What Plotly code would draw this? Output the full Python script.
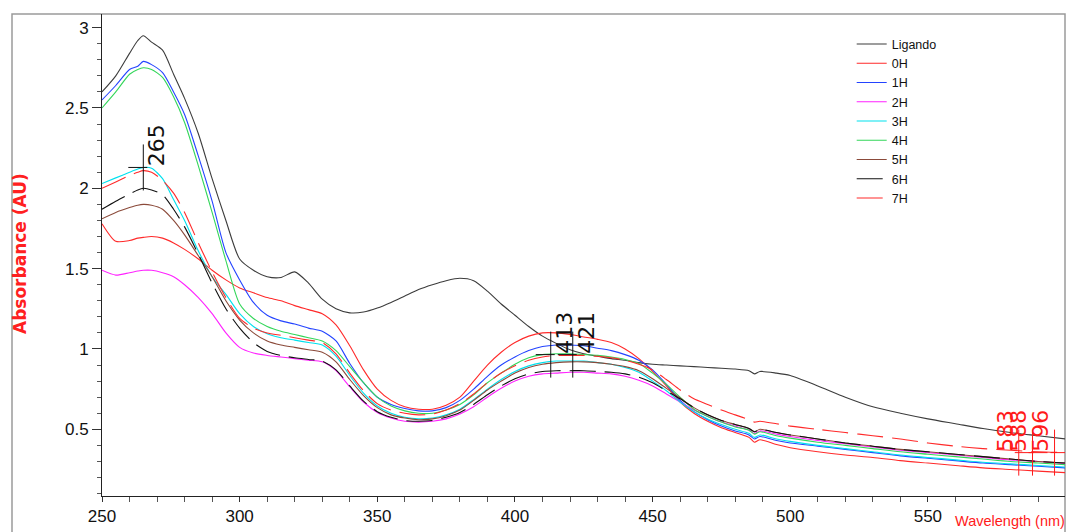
import plotly.graph_objects as go

# ---------------- data ----------------
wavelength = [250, 255, 260, 263, 265, 268, 272, 276, 280, 285,
              290, 295, 300, 305, 310, 315, 320, 325, 330, 335,
              340, 345, 350, 355, 360, 365, 370, 375, 380, 385,
              390, 395, 400, 405, 410, 415, 420, 425, 430, 435,
              440, 445, 450, 455, 460, 465, 470, 475, 480, 485,
              487, 489, 495, 500, 510, 520, 530, 540, 550, 560,
              570, 580, 590, 600]

ligando = [2.60, 2.70, 2.84, 2.92, 2.95, 2.91, 2.86, 2.71, 2.56, 2.34,
           2.06, 1.80, 1.56, 1.49, 1.45, 1.445, 1.48, 1.41, 1.31, 1.25,
           1.225, 1.23, 1.255, 1.29, 1.33, 1.37, 1.40, 1.425, 1.44, 1.425,
           1.36, 1.28, 1.21, 1.14, 1.08, 1.035, 0.995, 0.97, 0.955, 0.94,
           0.93, 0.915, 0.905, 0.90, 0.895, 0.89, 0.885, 0.88, 0.875, 0.865,
           0.845, 0.86, 0.85, 0.835, 0.77, 0.70, 0.64, 0.60, 0.565, 0.535,
           0.505, 0.48, 0.46, 0.44]

h0 = [1.78, 1.67, 1.675, 1.69, 1.695, 1.70, 1.69, 1.66, 1.62, 1.56,
      1.49, 1.43, 1.38, 1.35, 1.32, 1.30, 1.27, 1.245, 1.22, 1.15,
      1.02, 0.87, 0.75, 0.68, 0.64, 0.625, 0.625, 0.65, 0.70, 0.80,
      0.90, 0.98, 1.04, 1.08, 1.10, 1.10, 1.09, 1.075, 1.06, 1.04,
      1.00, 0.94, 0.86, 0.77, 0.67, 0.60, 0.55, 0.51, 0.48, 0.45,
      0.42, 0.435, 0.405, 0.385, 0.36, 0.34, 0.325, 0.305, 0.29, 0.275,
      0.26, 0.25, 0.24, 0.23]

h1 = [2.55, 2.64, 2.74, 2.76, 2.79, 2.77, 2.72, 2.60, 2.46, 2.20,
      1.92, 1.60, 1.43, 1.29, 1.21, 1.175, 1.155, 1.13, 1.11, 1.05,
      0.91, 0.79, 0.70, 0.655, 0.63, 0.615, 0.615, 0.635, 0.68, 0.75,
      0.83, 0.90, 0.95, 0.99, 1.015, 1.025, 1.025, 1.02, 1.005, 0.99,
      0.965, 0.93, 0.87, 0.78, 0.68, 0.61, 0.56, 0.52, 0.49, 0.465,
      0.44, 0.455, 0.43, 0.415, 0.395, 0.375, 0.355, 0.335, 0.32, 0.305,
      0.29, 0.28, 0.27, 0.26]

h2 = [1.49, 1.46, 1.475, 1.485, 1.49, 1.49, 1.475, 1.45, 1.40, 1.32,
      1.22, 1.10, 1.01, 0.975, 0.96, 0.95, 0.94, 0.93, 0.92, 0.865,
      0.765, 0.67, 0.605, 0.57, 0.55, 0.545, 0.55, 0.565, 0.595, 0.64,
      0.70, 0.755, 0.80, 0.83, 0.845, 0.85, 0.855, 0.855, 0.85, 0.845,
      0.83, 0.805, 0.77, 0.72, 0.67, 0.62, 0.58, 0.545, 0.52, 0.495,
      0.475, 0.49, 0.47, 0.455, 0.43, 0.41, 0.39, 0.37, 0.355, 0.34,
      0.325, 0.31, 0.30, 0.285]

h3 = [2.03, 2.065, 2.10, 2.12, 2.13, 2.125, 2.06, 1.93, 1.80, 1.61,
      1.45, 1.34, 1.22, 1.14, 1.095, 1.07, 1.055, 1.04, 1.025, 0.955,
      0.835, 0.725, 0.645, 0.60, 0.575, 0.565, 0.57, 0.59, 0.625, 0.685,
      0.75, 0.81, 0.86, 0.895, 0.915, 0.925, 0.925, 0.925, 0.915, 0.905,
      0.885, 0.855, 0.80, 0.74, 0.67, 0.61, 0.565, 0.53, 0.50, 0.475,
      0.45, 0.465, 0.44, 0.425, 0.40, 0.38, 0.36, 0.34, 0.325, 0.31,
      0.295, 0.285, 0.275, 0.265]

h4 = [2.50, 2.60, 2.71, 2.74, 2.75, 2.74, 2.69, 2.57, 2.41, 2.14,
      1.85, 1.55, 1.28, 1.19, 1.14, 1.11, 1.09, 1.07, 1.05, 0.99,
      0.89, 0.79, 0.70, 0.645, 0.615, 0.60, 0.60, 0.62, 0.655, 0.715,
      0.79, 0.85, 0.905, 0.945, 0.965, 0.97, 0.97, 0.965, 0.96, 0.95,
      0.935, 0.91, 0.85, 0.78, 0.70, 0.625, 0.58, 0.545, 0.515, 0.495,
      0.47, 0.485, 0.46, 0.445, 0.42, 0.40, 0.38, 0.36, 0.345, 0.33,
      0.315, 0.30, 0.29, 0.28]

h5 = [1.81, 1.85, 1.88, 1.895, 1.90, 1.895, 1.87, 1.80, 1.71, 1.58,
      1.45, 1.30, 1.18, 1.10, 1.05, 1.025, 1.01, 0.995, 0.98, 0.92,
      0.81, 0.71, 0.635, 0.59, 0.57, 0.56, 0.565, 0.585, 0.62, 0.68,
      0.745, 0.80, 0.85, 0.885, 0.905, 0.915, 0.92, 0.92, 0.915, 0.905,
      0.89, 0.865, 0.815, 0.755, 0.695, 0.635, 0.59, 0.555, 0.53, 0.505,
      0.485, 0.50, 0.48, 0.465, 0.44, 0.415, 0.395, 0.375, 0.36, 0.345,
      0.33, 0.315, 0.30, 0.29]

h6 = [1.87, 1.92, 1.965, 1.99, 2.00, 1.99, 1.96, 1.87, 1.76, 1.59,
      1.41, 1.25, 1.13, 1.04, 0.985, 0.96, 0.945, 0.935, 0.925, 0.87,
      0.77, 0.675, 0.61, 0.575, 0.555, 0.55, 0.555, 0.575, 0.605, 0.655,
      0.715, 0.77, 0.815, 0.845, 0.86, 0.865, 0.865, 0.865, 0.86, 0.855,
      0.845, 0.825, 0.79, 0.74, 0.69, 0.635, 0.59, 0.555, 0.53, 0.505,
      0.485, 0.50, 0.48, 0.465, 0.44, 0.415, 0.395, 0.375, 0.36, 0.345,
      0.33, 0.315, 0.30, 0.29]

h7 = [2.00, 2.04, 2.08, 2.10, 2.11, 2.10, 2.05, 1.97, 1.85, 1.66,
      1.48, 1.32, 1.19, 1.13, 1.10, 1.085, 1.07, 1.055, 1.04, 0.97,
      0.85, 0.74, 0.66, 0.62, 0.60, 0.59, 0.595, 0.62, 0.66, 0.72,
      0.79, 0.85, 0.895, 0.93, 0.95, 0.96, 0.96, 0.96, 0.955, 0.945,
      0.93, 0.905, 0.87, 0.81, 0.745, 0.69, 0.655, 0.62, 0.59, 0.56,
      0.545, 0.55, 0.535, 0.52, 0.50, 0.48, 0.46, 0.44, 0.415, 0.395,
      0.38, 0.37, 0.36, 0.355]

series_names = ["Ligando", "0H", "1H", "2H", "3H", "4H", "5H", "6H", "7H"]
series_values = [ligando, h0, h1, h2, h3, h4, h5, h6, h7]

peak_nm = [265, 413, 421, 583, 588, 596]
peak_abs = [2.13, 0.965, 0.965, 0.355, 0.355, 0.355]
peak_labels = ["265", "413", "421", "583", "588", "596"]

# ---------------- style ----------------
line_styles = {
    "Ligando": dict(color="#3c3c3c", dash="solid"),
    "0H": dict(color="#ff2a2a", dash="solid"),
    "1H": dict(color="#2343ff", dash="solid"),
    "2H": dict(color="#ff22ff", dash="solid"),
    "3H": dict(color="#00e1ee", dash="solid"),
    "4H": dict(color="#33d65a", dash="solid"),
    "5H": dict(color="#8b4a3a", dash="solid"),
    "6H": dict(color="#111111", dash="26px,9px"),
    "7H": dict(color="#ff2a2a", dash="26px,9px"),
}

W, H = 1068, 532
M_L, M_R, M_T, M_B = 102, 3, 14, 36
X_RANGE = [250, 599.8]
Y_RANGE = [0.085, 3.085]
plot_w = W - M_L - M_R
plot_h = H - M_T - M_B
px_per_nm = plot_w / (X_RANGE[1] - X_RANGE[0])
px_per_unit = plot_h / (Y_RANGE[1] - Y_RANGE[0])

fig = go.Figure()
for name, vals in zip(series_names, series_values):
    st = line_styles[name]
    fig.add_trace(go.Scatter(
        x=wavelength, y=vals, mode="lines", name=name,
        line=dict(color=st["color"], width=1.1, dash=st["dash"],
                  shape="spline", smoothing=0.7),
    ))

# peak markers (crosshair + rotated label)
shapes = []
annotations = []
for nm, ab, lab in zip(peak_nm, peak_abs, peak_labels):
    right_side = nm > 550
    col = "#ff1a1a" if right_side else "#111111"
    half_v = 23 / px_per_unit
    shapes.append(dict(type="line", xref="x", yref="y", x0=nm, x1=nm,
                       y0=ab - half_v, y1=ab + half_v,
                       line=dict(color=col, width=1)))
    if right_side:
        hx0, hx1 = nm - 4 / px_per_nm, nm + 15 / px_per_nm
    else:
        hx0, hx1 = nm - 15 / px_per_nm, nm + 4 / px_per_nm
    shapes.append(dict(type="line", xref="x", yref="y", x0=hx0, x1=hx1,
                       y0=ab, y1=ab, line=dict(color=col, width=1)))
    annotations.append(dict(
        x=nm, y=ab, xref="x", yref="y", text=lab, showarrow=False,
        textangle=-90, xanchor="right" if right_side else "left",
        yanchor="bottom", xshift=0, borderpad=0,
        font=dict(family="DejaVu Sans", size=22, color=col),
    ))

# outer frame
shapes.append(dict(type="rect", xref="paper", yref="paper",
                   x0=(12 - M_L) / plot_w, x1=1.0, y0=-0.2, y1=1.0,
                   line=dict(color="#9a9a9a", width=1.5), layer="below"))

# axis titles
annotations.append(dict(
    text="Absorbance (AU)", xref="paper", yref="paper",
    x=(20 - M_L) / plot_w, y=(H - M_B - 254) / plot_h,
    xanchor="center", yanchor="middle", textangle=-90, showarrow=False,
    font=dict(family="DejaVu Sans", size=17, color="#ff2020", weight="bold"),
))
annotations.append(dict(
    text="Wavelength (nm)", xref="paper", yref="paper",
    x=(1067 - M_L) / plot_w, y=(H - M_B - 521) / plot_h,
    xanchor="right", yanchor="middle", showarrow=False,
    font=dict(family="Liberation Sans, Arial, sans-serif",
              size=14.5, color="#ff1a1a"),
))

tick_font = dict(family="Liberation Sans, Arial, sans-serif",
                 size=17, color="#111111")

fig.update_layout(
    width=W, height=H,
    margin=dict(l=M_L, r=M_R, t=M_T, b=M_B),
    paper_bgcolor="white", plot_bgcolor="white",
    shapes=shapes, annotations=annotations,
    showlegend=True,
    legend=dict(x=0.7785, y=0.968, xanchor="left", yanchor="top",
                bgcolor="rgba(0,0,0,0)", borderwidth=0,
                font=dict(family="Liberation Sans, Arial, sans-serif", size=12.5,
                          color="#111111")),
    xaxis=dict(range=X_RANGE, tickmode="linear", tick0=250, dtick=50,
               ticks="outside", ticklen=5, tickwidth=1, tickcolor="#333333",
               showline=True, linecolor="#222222", linewidth=1,
               showgrid=False, zeroline=False, tickfont=tick_font,
               minor=dict(dtick=10, tick0=250, ticks="outside", ticklen=5,
                          tickcolor="#555555", showgrid=False)),
    yaxis=dict(range=Y_RANGE, tickmode="linear", tick0=0, dtick=0.5,
               ticks="outside", ticklen=9, tickwidth=1, tickcolor="#333333",
               showline=True, linecolor="#222222", linewidth=1,
               showgrid=False, zeroline=False, tickfont=tick_font,
               minor=dict(dtick=0.1, tick0=0, ticks="outside", ticklen=4,
                          tickcolor="#555555", showgrid=False)),
)

fig.write_html("out.html")
